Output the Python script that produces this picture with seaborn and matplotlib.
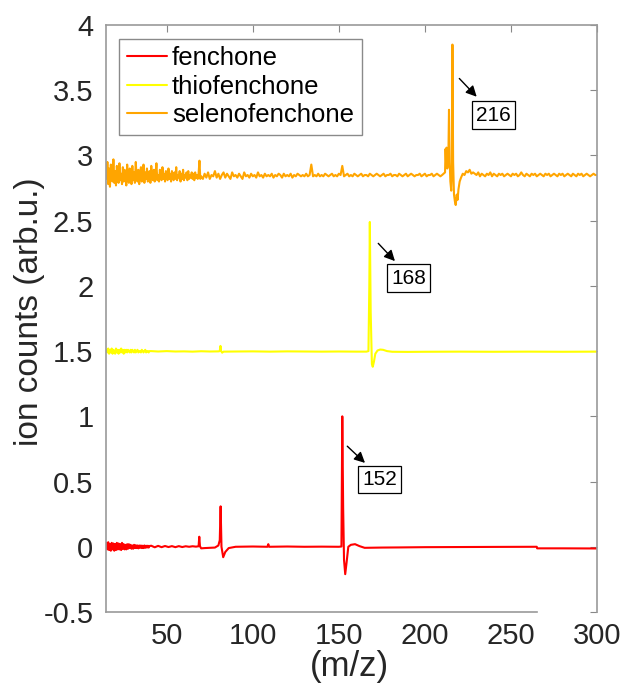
import numpy as np
import pandas as pd
import matplotlib
matplotlib.use("Agg")
import matplotlib.pyplot as plt
import seaborn as sns
from matplotlib.ticker import FuncFormatter

compounds = ["fenchone", "thiofenchone", "selenofenchone"]
line_colors = ["#ff0000", "#ffff00", "#ffa500"]

# parent-ion peaks (m/z) and their heights
peak_mz = [152, 168, 216]
peak_height = [1.0, 2.49, 3.85]

# ---- fenchone ----
fen_onset_mz = np.arange(15, 40.5, 0.5)
fen_onset = [
    0.03, -0.02, 0.035, -0.025, 0.02, -0.03, 0.03, -0.02, 0.025, -0.03,
    0.02, -0.025, 0.03, -0.02, 0.025, -0.02, 0.02, -0.025, 0.03, -0.015,
    0.02, -0.02, 0.015, -0.02, 0.02, -0.015, 0.02, -0.01, 0.015, -0.015,
    0.01, -0.015, 0.015, -0.01, 0.012, -0.01, 0.01, -0.012, 0.01, -0.008,
    0.01, -0.01, 0.008, -0.01, 0.01, -0.008, 0.008, -0.006, 0.008, -0.006,
    0.006,
]
fen_mz = [41, 43, 45, 47, 49, 51, 53, 55, 57, 59, 61, 63, 65, 67, 68.5,
          68.9, 69.3, 70, 72, 75, 78, 80, 80.8, 81.3, 81.8, 82.8, 84, 86,
          90, 100, 108.5, 109, 109.5, 120, 130, 140, 150, 151.5, peak_mz[0],
          152.5, 153.0, 153.7, 154.5, 155.5, 157, 159.4, 162, 165, 175, 185,
          200, 220, 240, 265, 265.2, 280, 300]
fen_counts = [0.008, -0.004, 0.007, -0.003, 0.006, -0.002, 0.005, -0.003,
              0.005, -0.002, 0.004, 0.0, 0.004, 0.001, 0.004, 0.077, 0.004,
              -0.012, -0.010, -0.008, -0.006, 0.01, 0.05, 0.31, 0.0, -0.08,
              -0.04, -0.01, 0.0, 0.002, 0.0, 0.02, 0.0, 0.002, 0.0, 0.001,
              0.0, 0.002, peak_height[0], 0.3, -0.1, -0.21, -0.12, 0.0, 0.015,
              0.02, 0.005, -0.008, -0.006, -0.005, -0.003, -0.002, -0.001,
              0.0, -0.012, -0.012, -0.013]

# ---- thiofenchone ----
thio_onset_mz = np.arange(15, 40.5, 0.5)
thio_onset = [
    1.51, 1.49, 1.52, 1.48, 1.51, 1.49, 1.52, 1.48, 1.51, 1.50,
    1.48, 1.52, 1.49, 1.51, 1.48, 1.51, 1.49, 1.52, 1.49, 1.51,
    1.48, 1.51, 1.49, 1.51, 1.49, 1.51, 1.50, 1.49, 1.51, 1.49,
    1.51, 1.50, 1.49, 1.51, 1.49, 1.50, 1.51, 1.49, 1.50, 1.50,
    1.49, 1.51, 1.50, 1.49, 1.50, 1.51, 1.49, 1.50, 1.50, 1.49,
    1.50,
]
thio_mz = [41, 45, 50, 55, 60, 65, 70, 75, 80, 80.8, 81.2, 81.6, 82.2, 83,
           90, 100, 110, 120, 130, 140, 150, 160, 166, 167.2, 167.7,
           peak_mz[1], 168.5, 169.2, 169.7, 170.4, 171.2, 172.5, 174, 175.7,
           178, 181, 190, 200, 220, 240, 260, 280, 300]
thio_counts = [1.50, 1.497, 1.50, 1.497, 1.498, 1.496, 1.499, 1.497, 1.498,
               1.50, 1.54, 1.50, 1.488, 1.496, 1.497, 1.498, 1.496, 1.498,
               1.497, 1.496, 1.497, 1.496, 1.496, 1.50, 2.0, peak_height[1],
               1.80, 1.40, 1.38, 1.42, 1.48, 1.505, 1.512, 1.51, 1.50, 1.495,
               1.494, 1.495, 1.496, 1.495, 1.496, 1.495, 1.496]

# ---- selenofenchone ----
sel_onset_mz = np.arange(15, 70, 0.5)
sel_onset = [
    2.82, 2.95, 2.78, 2.90, 2.76, 2.93, 2.84, 2.80, 2.97, 2.79,
    2.88, 2.77, 2.92, 2.83, 2.79, 2.94, 2.81, 2.86, 2.78, 2.91,
    2.80, 2.89, 2.84, 2.77, 2.93, 2.82, 2.79, 2.90, 2.85, 2.78,
    2.92, 2.81, 2.87, 2.79, 2.95, 2.83, 2.80, 2.89, 2.78, 2.86,
    2.91, 2.80, 2.84, 2.93, 2.79, 2.87, 2.82, 2.90, 2.80, 2.85,
    2.88, 2.79, 2.92, 2.83, 2.81, 2.89, 2.80, 2.86, 2.94, 2.81,
    2.85, 2.80, 2.89, 2.83, 2.81, 2.91, 2.82, 2.86, 2.80, 2.88,
    2.83, 2.81, 2.90, 2.82, 2.86, 2.80, 2.88, 2.84, 2.81, 2.87,
    2.82, 2.91, 2.81, 2.85, 2.83, 2.88, 2.80, 2.86, 2.82, 2.89,
    2.81, 2.85, 2.83, 2.87, 2.81, 2.88, 2.82, 2.85, 2.83, 2.87,
    2.82, 2.86, 2.81, 2.87, 2.83, 2.85, 2.82, 2.86, 2.96, 2.82,
]
sel_mid_mz = np.arange(70, 211)
sel_mid = [
    2.84, 2.82, 2.86, 2.83, 2.87, 2.82, 2.85, 2.84, 2.88, 2.83,
    2.86, 2.82, 2.85, 2.87, 2.83, 2.86, 2.84, 2.82, 2.87, 2.84,
    2.85, 2.83, 2.86, 2.84, 2.82, 2.87, 2.84, 2.85, 2.83, 2.86,
    2.84, 2.85, 2.83, 2.87, 2.84, 2.85, 2.83, 2.86, 2.84, 2.85,
    2.84, 2.86, 2.83, 2.85, 2.84, 2.86, 2.85, 2.83, 2.86, 2.84,
    2.85, 2.84, 2.86, 2.83, 2.85, 2.84, 2.86, 2.85, 2.84, 2.85,
    2.84, 2.86, 2.84, 2.85, 2.93, 2.84, 2.85, 2.84, 2.86, 2.84,
    2.85, 2.84, 2.86, 2.85, 2.84, 2.85, 2.86, 2.84, 2.85, 2.84,
    2.86, 2.85, 2.92, 2.84, 2.85, 2.86, 2.84, 2.85, 2.84, 2.86,
    2.85, 2.84, 2.85, 2.86, 2.84, 2.85, 2.85, 2.84, 2.86, 2.85,
    2.84, 2.85, 2.86, 2.85, 2.84, 2.85, 2.86, 2.84, 2.85, 2.85,
    2.86, 2.84, 2.85, 2.85, 2.84, 2.86, 2.85, 2.84, 2.85, 2.86,
    2.84, 2.85, 2.86, 2.85, 2.84, 2.85, 2.85, 2.86, 2.84, 2.85,
    2.86, 2.84, 2.85, 2.85, 2.86, 2.84, 2.85, 2.86, 2.85, 2.84,
    2.85,
]
sel_mz = [211.7, 212.0, 212.3, 212.6, 213.0, 213.6, 214.0, 214.4, 214.8,
          215.3, 215.7, peak_mz[2], 216.4, 216.9, 217.4, 217.9, 218.5, 219.0,
          219.5, 220.2, 221.0, 222.0, 223.0, 224.0, 225.0, 226.0, 227.0,
          228.0]
sel_counts = [2.87, 3.05, 2.95, 3.06, 2.90, 2.95, 3.35, 2.95, 2.80, 2.73,
              2.90, peak_height[2], 2.95, 2.70, 2.65, 2.62, 2.70, 2.66, 2.74,
              2.80, 2.83, 2.86, 2.85, 2.88, 2.87, 2.89, 2.86, 2.87]
sel_tail_mz = np.arange(229, 301)
sel_tail = [
    2.86, 2.85, 2.87, 2.84, 2.86, 2.85, 2.84, 2.86, 2.85, 2.87,
    2.84, 2.86, 2.85, 2.84, 2.86, 2.85, 2.86, 2.84, 2.85, 2.86,
    2.85, 2.84, 2.86, 2.85, 2.86, 2.84, 2.85, 2.87, 2.85, 2.84,
    2.86, 2.85, 2.84, 2.86, 2.85, 2.86, 2.84, 2.85, 2.86, 2.85,
    2.84, 2.86, 2.85, 2.86, 2.84, 2.85, 2.86, 2.85, 2.84, 2.86,
    2.85, 2.86, 2.84, 2.85, 2.86, 2.85, 2.84, 2.86, 2.85, 2.84,
    2.86, 2.85, 2.86, 2.84, 2.85, 2.86, 2.85, 2.84, 2.85, 2.86,
    2.85, 2.85,
]

x_ticks = [50, 100, 150, 200, 250, 300]
y_ticks = [-0.5, 0, 0.5, 1, 1.5, 2, 2.5, 3, 3.5, 4]

frames = []
for name, xs, ys in [
    (compounds[0], [fen_onset_mz, fen_mz], [fen_onset, fen_counts]),
    (compounds[1], [thio_onset_mz, thio_mz], [thio_onset, thio_counts]),
    (compounds[2], [sel_onset_mz, sel_mid_mz, sel_mz, sel_tail_mz],
     [sel_onset, sel_mid, sel_counts, sel_tail]),
]:
    frames.append(pd.DataFrame({
        "mz": np.concatenate([np.asarray(x, float) for x in xs]),
        "counts": np.concatenate([np.asarray(y, float) for y in ys]),
        "compound": name,
    }))
df = pd.concat(frames, ignore_index=True)

sns.set_theme(style="white")
plt.rcParams["font.family"] = ["Liberation Sans", "DejaVu Sans"]

fig = plt.figure(figsize=(6.22, 6.93), dpi=100)
ax = fig.add_axes([106 / 622, 81 / 693, 491 / 622, 587 / 693])

sns.lineplot(data=df, x="mz", y="counts", hue="compound",
             hue_order=compounds, palette=line_colors,
             estimator=None, sort=False, lw=1.5, ax=ax)

ax.set_xlim(14.7, 300)
ax.set_ylim(-0.5, 4)
ax.set_xticks(x_ticks)
ax.set_yticks(y_ticks)
ax.yaxis.set_major_formatter(FuncFormatter(lambda v, p: f"{v:g}"))
ax.tick_params(direction="in", length=5, width=0.8, color="#888888",
               top=True, right=True, labelsize=21, labelcolor="#262626")
ax.tick_params(axis="y", pad=9)
ax.tick_params(axis="x", pad=7)
for side in ["left", "right", "top", "bottom"]:
    ax.spines[side].set_color("#9a9a9a")
    ax.spines[side].set_linewidth(1.2)
ax.spines["bottom"].set_bounds(14.7, 265)

ax.set_xlabel("(m/z)", fontsize=25, color="#262626")
ax.set_ylabel("ion counts (arb.u.)", fontsize=24, color="#262626")
ax.xaxis.set_label_coords(0.495, -0.064)
ax.yaxis.set_label_coords(-0.124, 0.512)

leg = ax.legend(loc="upper left", bbox_to_anchor=(0.027, 0.977),
                borderaxespad=0, fontsize=18.5, frameon=True, fancybox=False,
                framealpha=1, edgecolor="#8a8a8a", handlelength=1.55,
                handletextpad=0.2, labelspacing=0.18, borderpad=0.3,
                title=None)
leg.get_frame().set_linewidth(1.0)
for t in leg.get_texts():
    t.set_color("black")

# peak labels: arrow tail, arrow head, label centre
arrow_tails = [(154.9, 0.771), (172.9, 2.326), (220.0, 3.59)]
arrow_heads = [(165.2, 0.643), (182.6, 2.19), (230.1, 3.45)]
label_centres = [(173.8, 0.515), (190.6, 2.06), (239.9, 3.31)]
for mz, tail, head, centre in zip(peak_mz, arrow_tails, arrow_heads,
                                  label_centres):
    ax.annotate("", xy=head, xytext=tail,
                arrowprops=dict(arrowstyle="-|>", color="black", lw=1.0,
                                mutation_scale=16, shrinkA=0, shrinkB=0))
    ax.text(centre[0], centre[1], str(mz), fontsize=15, ha="center",
            va="center", color="black",
            bbox=dict(boxstyle="square,pad=0.2", fc="white", ec="black",
                      lw=0.9))

fig.savefig("out.png", dpi=100)
